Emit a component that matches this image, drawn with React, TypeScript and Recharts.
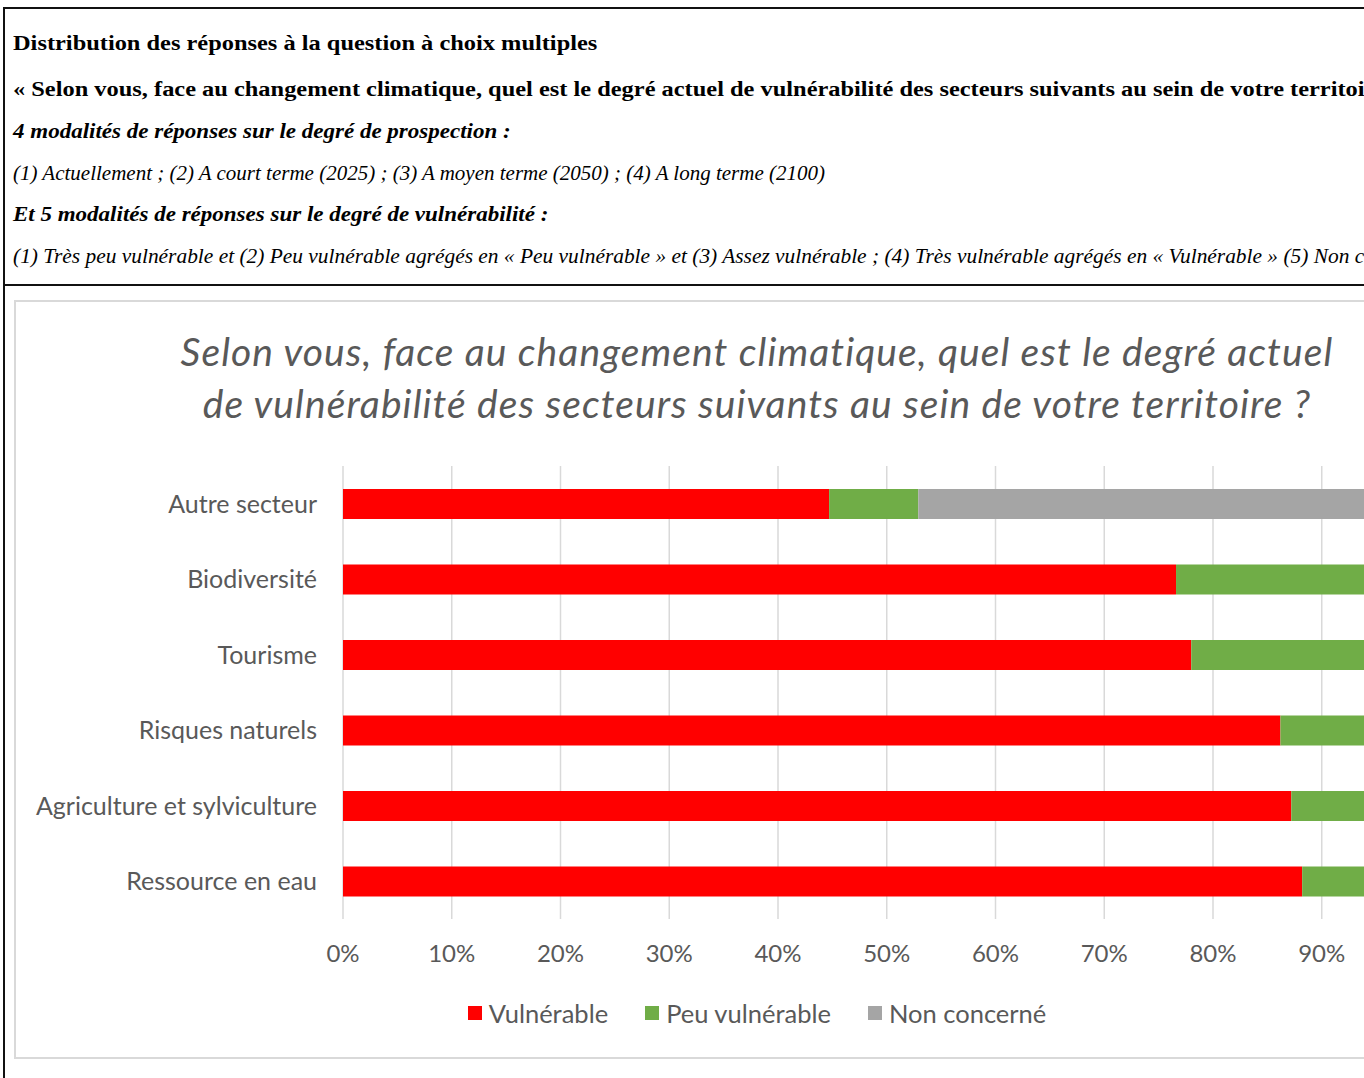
import { BarChart, Bar, XAxis, YAxis, CartesianGrid, Legend } from 'recharts';

const SECTEURS = [
  'Autre secteur',
  'Biodiversité',
  'Tourisme',
  'Risques naturels',
  'Agriculture et sylviculture',
  'Ressource en eau',
];
const VULNERABLE = [44.7, 76.6, 78.0, 86.2, 87.2, 88.2];
const PEU_VULNERABLE = [8.2, 23.4, 22.0, 13.8, 12.8, 11.8];
const NON_CONCERNE = [47.1, 0, 0, 0, 0, 0];
// 100% sits past the visible edge of the page, like in the source
const X_TICKS = [0, 10, 20, 30, 40, 50, 60, 70, 80, 90];

const SERIES = [
  { key: 'vulnerable', name: 'Vulnérable', color: '#ff0000' },
  { key: 'peu', name: 'Peu vulnérable', color: '#70ad47' },
  { key: 'non', name: 'Non concerné', color: '#a5a5a5' },
];

const data = SECTEURS.map((s, i) => ({
  secteur: s,
  vulnerable: VULNERABLE[i],
  peu: PEU_VULNERABLE[i],
  non: NON_CONCERNE[i],
}));

const GREY = '#595959';
const FONT = 'Lato, "Open Sans", sans-serif';

// header lines of the document box above the chart
const HEADER = [
  { top: 33, text: 'Distribution des réponses à la question à choix multiples', bold: true, italic: false, sx: 1.22 },
  { top: 79, text: '« Selon vous, face au changement climatique, quel est le degré actuel de vulnérabilité des secteurs suivants au sein de votre territoire ? »', bold: true, italic: false, sx: 1.22 },
  { top: 121, text: '4 modalités de réponses sur le degré de prospection :', bold: true, italic: true, sx: 1.15 },
  { top: 163, text: '(1) Actuellement ; (2) A court terme (2025) ; (3) A moyen terme (2050) ; (4) A long terme (2100)', bold: false, italic: true, sx: 1.05 },
  { top: 204, text: 'Et 5 modalités de réponses sur le degré de vulnérabilité :', bold: true, italic: true, sx: 1.15 },
  { top: 246, text: '(1) Très peu vulnérable et (2) Peu vulnérable agrégés en « Peu vulnérable » et  (3) Assez vulnérable ; (4) Très vulnérable agrégés en « Vulnérable » (5) Non concerné', bold: false, italic: true, sx: 1.07 },
];

const renderLegend = (props: any) => {
  const order = SERIES.map(s => s.name);
  const payload = [...(props.payload || [])].sort((a: any, b: any) => order.indexOf(a.value) - order.indexOf(b.value));
  return (
    <div style={{ display: 'flex', justifyContent: 'center', gap: 37, fontFamily: FONT, fontSize: 25.5, color: GREY }}>
      {payload.map((p: any) => (
        <div key={p.value} style={{ display: 'flex', alignItems: 'center' }}>
          <span style={{ display: 'inline-block', width: 14, height: 14, background: p.color, marginRight: 7 }} />
          <span>{p.value}</span>
        </div>
      ))}
    </div>
  );
};

export default function App() {
  return (
    <div style={{ position: 'absolute', left: 0, top: 0, width: 1364, height: 1078, overflow: 'hidden', background: '#fff' }}>
      {/* document frame */}
      <div style={{ position: 'absolute', left: 3, top: 7, width: 1600, height: 1200, border: '2px solid #111' }} />
      <div style={{ position: 'absolute', left: 3, top: 284, width: 1600, height: 2, background: '#111' }} />

      {HEADER.map((h, i) => (
        <div
          key={i}
          style={{
            position: 'absolute',
            left: 13,
            top: h.top,
            whiteSpace: 'nowrap',
            fontFamily: '"Liberation Serif", serif',
            fontSize: 20,
            lineHeight: '20px',
            fontWeight: h.bold ? 700 : 400,
            fontStyle: h.italic ? 'italic' : 'normal',
            color: '#000',
            transform: `scaleX(${h.sx})`,
            transformOrigin: 'left center',
          }}
        >
          {h.text}
        </div>
      ))}

      {/* chart panel */}
      <div style={{ position: 'absolute', left: 14, top: 300, width: 1486, height: 755, border: '2px solid #d9d9d9' }} />
      <div
        style={{
          position: 'absolute',
          left: 15,
          top: 325,
          width: 1484,
          textAlign: 'center',
          fontFamily: FONT,
          fontStyle: 'italic',
          fontSize: 39,
          letterSpacing: 1.1,
          lineHeight: '52px',
          color: GREY,
        }}
      >
        Selon vous, face au changement climatique, quel est le degré actuel
        <br />
        de vulnérabilité des secteurs suivants au sein de votre territoire ?
      </div>

      <div style={{ position: 'absolute', left: 15, top: 302 }}>
        <BarChart
          width={1484}
          height={755}
          data={data}
          layout="vertical"
          margin={{ top: 164, right: 68.5, left: 8, bottom: 108 }}
          barSize={30}
        >
          <CartesianGrid horizontal={false} stroke="#d9d9d9" strokeWidth={1.5} />
          <XAxis
            type="number"
            domain={[0, 100]}
            ticks={X_TICKS}
            tickFormatter={(v: number) => `${v}%`}
            axisLine={false}
            tickLine={false}
            tickSize={0}
            tickMargin={26}
            tick={{ fontSize: 24, fill: GREY, fontFamily: FONT }}
          />
          <YAxis
            type="category"
            dataKey="secteur"
            width={320}
            axisLine={false}
            tickLine={false}
            tickSize={0}
            tickMargin={26}
            tick={{ fontSize: 25, fill: GREY, fontFamily: FONT }}
          />
          <Legend
            layout="horizontal"
            verticalAlign="middle"
            align="center"
            content={renderLegend}
            wrapperStyle={{ top: 696, left: 0, width: 1484 }}
          />
          {SERIES.map(s => (
            <Bar key={s.key} dataKey={s.key} name={s.name} stackId="a" fill={s.color} isAnimationActive={false} />
          ))}
        </BarChart>
      </div>
    </div>
  );
}
